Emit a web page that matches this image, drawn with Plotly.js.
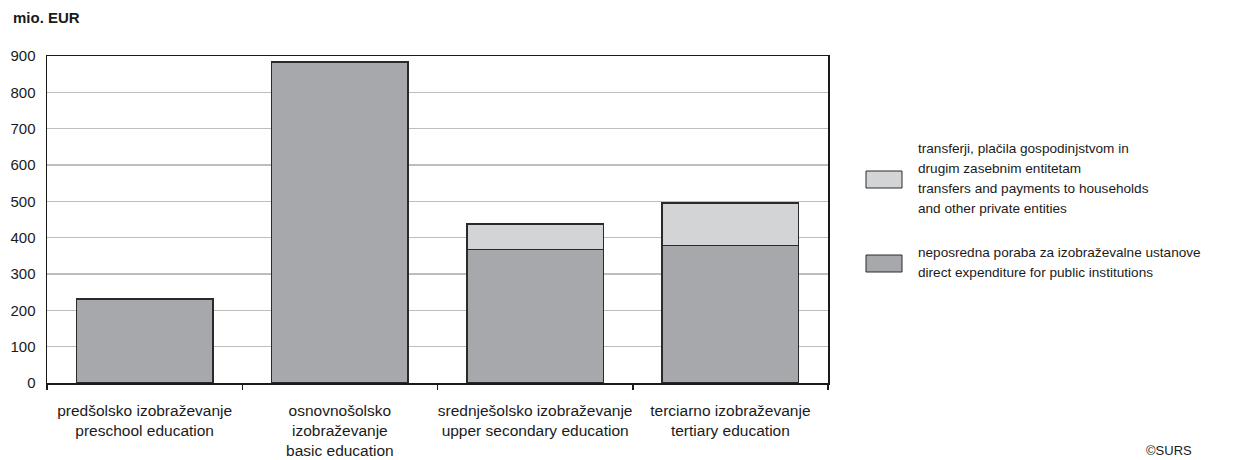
<!DOCTYPE html>
<html><head><meta charset="utf-8">
<script src="https://cdn.plot.ly/plotly-3.0.1.min.js"></script>
<style>html,body{margin:0;padding:0;background:#fff}#chart{width:1238px;height:460px}</style>
</head><body><div id="chart"></div>
<script>
const categories = [
  "predšolsko izobraževanje<br>preschool education",
  "osnovnošolsko<br>izobraževanje<br>basic education",
  "srednješolsko izobraževanje<br>upper secondary education",
  "terciarno izobraževanje<br>tertiary education"
];
const directValues = [231, 884, 368, 379];
const transferValues = [0, 0, 69, 116];
const directNameLines = ["neposredna poraba za izobraževalne ustanove", "direct expenditure for public institutions"];
const transferNameLines = ["transferji, plačila gospodinjstvom in", "drugim zasebnim entitetam", "transfers and payments to households", "and other private entities"];
const unitLabel = "mio. EUR";
const sourceLabel = "©SURS";

const FONT = "Liberation Sans, Arial, sans-serif";
const darkCol = "#a7a8ac", lightCol = "#d3d4d6";
const TXT = "#1a1a1a";

const traces = [
  {type:"bar", x:categories, y:directValues, name:directNameLines.join(" "), width:0.7,
   marker:{color:darkCol, line:{color:"#2a2a2a", width:1.5}}, showlegend:false, hoverinfo:"none"},
  {type:"bar", x:categories, y:transferValues.map(v => v === 0 ? null : v), name:transferNameLines.join(" "), width:0.7,
   marker:{color:lightCol, line:{color:"#2a2a2a", width:1.5}}, showlegend:false, hoverinfo:"none"}
];

// pixel -> paper helpers (plot area: x 47..828, y 56..383)
const PX0 = 47, PX1 = 828, PY0 = 56, PY1 = 383;
const px = x => (x - PX0) / (PX1 - PX0);
const py = y => (PY1 - y) / (PY1 - PY0);

const legendItems = [
  {lines: transferNameLines, color: lightCol, y0: 171, y1: 188, firstLine: 148},
  {lines: directNameLines, color: darkCol, y0: 255, y1: 272, firstLine: 252}
];
const shapes = [], annotations = [];
legendItems.forEach(it => {
  shapes.push({type:"rect", xref:"paper", yref:"paper",
    x0:px(866), x1:px(902), y0:py(it.y1), y1:py(it.y0),
    fillcolor:it.color, line:{color:"#2a2a2a", width:1}});
  it.lines.forEach((ln, i) => {
    annotations.push({xref:"paper", yref:"paper", x:px(916), y:py(it.firstLine + i*20.3),
      xanchor:"left", yanchor:"middle", align:"left", showarrow:false, text:ln,
      font:{family:FONT, size:13.6, color:TXT}});
  });
});
annotations.push({xref:"paper", yref:"paper", x:px(11), y:py(18),
  xanchor:"left", yanchor:"middle", showarrow:false, text:"<b>"+unitLabel+"</b>",
  font:{family:FONT, size:15, color:TXT}});
annotations.push({xref:"paper", yref:"paper", x:px(1194), y:py(450),
  xanchor:"right", yanchor:"middle", showarrow:false, text:sourceLabel,
  font:{family:FONT, size:13, color:TXT}});

const layout = {
  width:1238, height:460, barmode:"stack",
  margin:{l:47, r:410, t:56, b:77, pad:0},
  paper_bgcolor:"#fff", plot_bgcolor:"#fff",
  font:{family:FONT, size:15, color:TXT},
  xaxis:{type:"category", showline:true, linecolor:TXT, linewidth:1.5, mirror:true,
    ticks:"outside", tickson:"boundaries", ticklen:5, tickcolor:TXT, tickwidth:1.5, tickangle:0,
    showgrid:false, tickfont:{family:FONT, size:15.5, color:TXT}, ticklabelstandoff:13, fixedrange:true},
  yaxis:{range:[0,900], dtick:100, showline:true, linecolor:TXT, linewidth:1.5, mirror:true,
    ticks:"", showgrid:true, gridcolor:"#bdbdbd", gridwidth:1.2, zeroline:false,
    tickfont:{family:FONT, size:15, color:TXT}, ticklabelstandoff:7, fixedrange:true},
  shapes:shapes, annotations:annotations, showlegend:false
};
Plotly.newPlot("chart", traces, layout, {staticPlot:true, displayModeBar:false});
</script></body></html>
